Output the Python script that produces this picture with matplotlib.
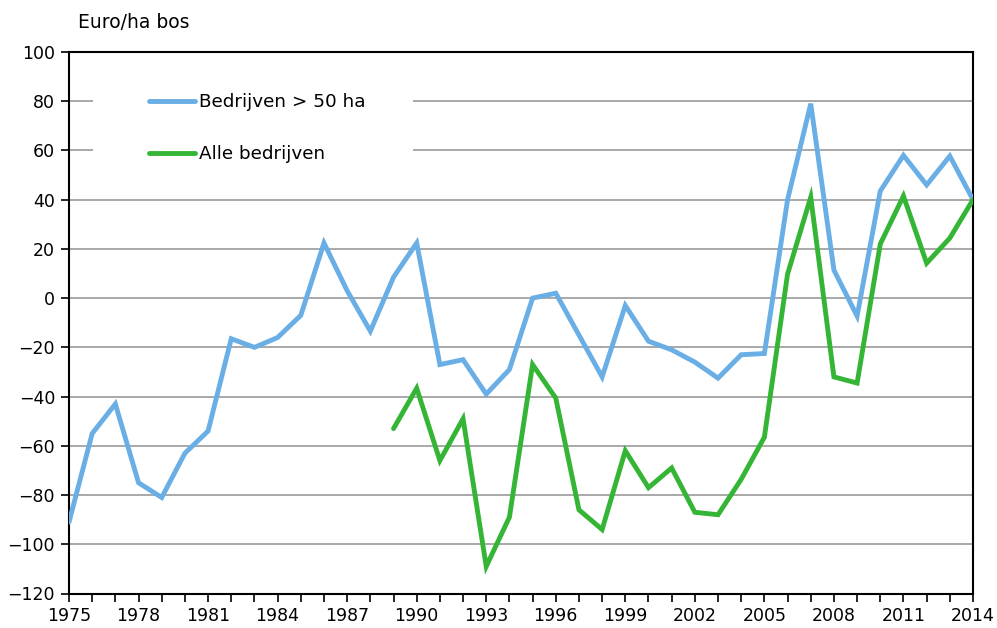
import matplotlib
matplotlib.use("Agg")
import matplotlib.pyplot as plt
from matplotlib.ticker import MultipleLocator
from matplotlib.patches import Rectangle

years_big = list(range(1975, 2015))
big = [-91, -55, -43, -75, -81, -63, -54, -16.5, -20, -16, -7, 22.4, 3, -13.4, 8.5, 22.4,
       -27, -25, -39, -29, 0, 2, -15, -32, -3, -17.5, -21, -26, -32.5, -23, -22.5, 40, 79,
       11.4, -7.3, 43.5, 58, 46, 57.7, 40]
years_all = list(range(1989, 2015))
alle = [-53, -36.6, -66, -49, -109, -89, -27, -40.6, -86, -94, -62, -77, -69, -87, -88,
        -73.6, -56.5, 9.8, 41, -32, -34.5, 22, 41.5, 14.2, 24.4, 40]

labels = ["Bedrijven > 50 ha", "Alle bedrijven"]
ylabel = "Euro/ha bos"

plt.rcParams['font.family'] = ['DejaVu Sans']
W, H = 997, 628
L, R, T, B = 69, 973, 52, 593.5
fig = plt.figure(figsize=(W/100, H/100), dpi=100)
ax = fig.add_axes([L/W, 1 - B/H, (R-L)/W, (B-T)/H])

def axfx(px):
    return (px - L) / (R - L)

def axfy(py):
    return (B - py) / (B - T)

ax.plot(years_big, big, color="#6aaee6", lw=3.5, label=labels[0], solid_capstyle='round', solid_joinstyle='miter', zorder=3)
ax.plot(years_all, alle, color="#35b535", lw=3.5, label=labels[1], solid_capstyle='round', solid_joinstyle='miter', zorder=3)

ax.set_xlim(1975, 2014)
ax.set_ylim(-120, 100)
ax.set_yticks(range(-120, 101, 20))
ax.set_xticks(range(1975, 2015, 3))
ax.xaxis.set_minor_locator(MultipleLocator(1))
ax.yaxis.grid(True, color="#999999", lw=1.2, zorder=1)
ax.set_axisbelow(True)
for s in ax.spines.values():
    s.set_linewidth(1.5)
    s.set_color("black")
ax.tick_params(axis='both', which='both', direction='out', labelsize=12.5, width=1.2)
ax.tick_params(axis='y', length=6, pad=4)
ax.tick_params(axis='x', which='major', length=6, pad=4)
ax.tick_params(axis='x', which='minor', length=6)
ax.tick_params(axis='y', which='minor', left=False)

fig.text(78/W, 1 - 23/H, ylabel, fontsize=13.5, va='center', ha='left')

# white legend background covering gridlines
ax.add_patch(Rectangle((axfx(93), axfy(180)), axfx(413) - axfx(93), axfy(75) - axfy(180),
                       transform=ax.transAxes, facecolor='white', edgecolor='none', zorder=2))

leg = ax.legend(loc='upper left', bbox_to_anchor=(axfx(149), axfy(93)), frameon=False, fontsize=13.2,
                handlelength=2.5, handletextpad=0.22, labelspacing=1.88, borderpad=0, borderaxespad=0)
leg.set_zorder(4)
fig.savefig("out.png", dpi=100)
